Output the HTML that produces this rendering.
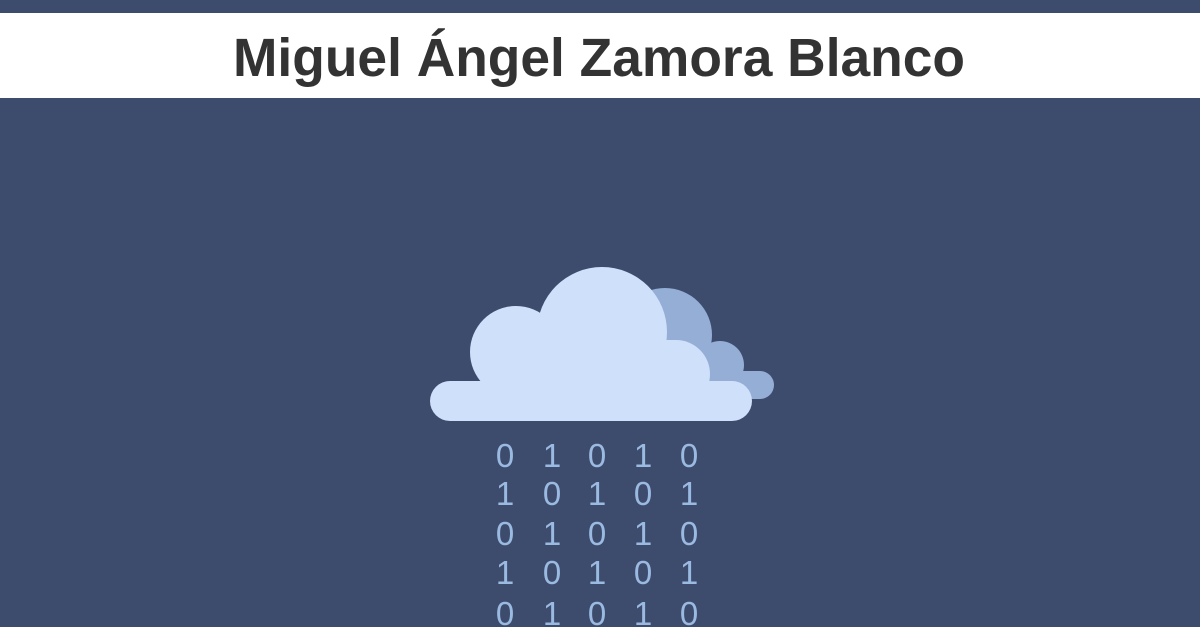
<!DOCTYPE html>
<html><head><style>
html,body{margin:0;padding:0;width:1200px;height:627px;overflow:hidden;background:#3d4c6d;}
</style></head><body>
<svg width="1200" height="627" xmlns="http://www.w3.org/2000/svg">
<rect x="0" y="0" width="1200" height="627" fill="#3d4c6d"/>
<rect x="0" y="13" width="1200" height="85" fill="#ffffff"/>
<text x="599" y="76" text-anchor="middle" font-family="Liberation Sans, sans-serif" font-weight="bold" font-size="54" fill="#333333" textLength="732" lengthAdjust="spacingAndGlyphs">Miguel Ángel Zamora Blanco</text>
<g fill="#94aed6">
<circle cx="665" cy="335" r="47"/>
<circle cx="720" cy="365" r="24"/>
<rect x="680" y="371" width="94" height="28" rx="14"/>
</g>
<g fill="#cfe0fb">
<circle cx="602" cy="332" r="65"/>
<circle cx="516" cy="352" r="46"/>
<circle cx="676" cy="374" r="34"/>
<rect x="430" y="381" width="322" height="40" rx="20"/>
<rect x="516" y="340" width="160" height="50"/>
</g>
<g font-family="Liberation Sans, sans-serif" font-size="33" fill="#a6c6ee" text-anchor="middle" opacity="0.9">
<text x="505" y="467">0</text><text x="552" y="467">1</text><text x="597" y="467">0</text><text x="643" y="467">1</text><text x="689" y="467">0</text>
<text x="505" y="505">1</text><text x="552" y="505">0</text><text x="597" y="505">1</text><text x="643" y="505">0</text><text x="689" y="505">1</text>
<text x="505" y="545">0</text><text x="552" y="545">1</text><text x="597" y="545">0</text><text x="643" y="545">1</text><text x="689" y="545">0</text>
<text x="505" y="584">1</text><text x="552" y="584">0</text><text x="597" y="584">1</text><text x="643" y="584">0</text><text x="689" y="584">1</text>
<text x="505" y="625">0</text><text x="552" y="625">1</text><text x="597" y="625">0</text><text x="643" y="625">1</text><text x="689" y="625">0</text>
</g>
</svg>
</body></html>
